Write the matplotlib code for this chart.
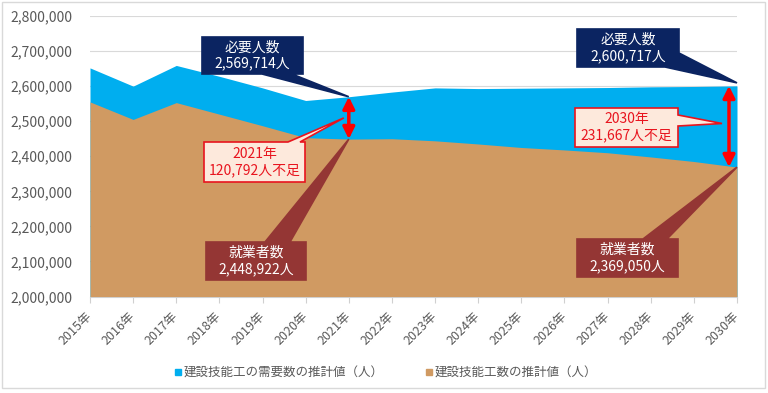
import matplotlib
matplotlib.use("Agg")
import matplotlib.pyplot as plt
from matplotlib.patches import Polygon, Rectangle
from matplotlib.lines import Line2D
from matplotlib.transforms import ScaledTranslation
from matplotlib.ticker import FuncFormatter

plt.rcParams['font.family'] = ['Noto Sans CJK JP', 'DejaVu Sans']

# data
years = list(range(2015, 2031))
demand = [2652000, 2600000, 2659000, 2628000, 2595000, 2559000, 2569714, 2583000,
          2595000, 2593000, 2594000, 2595000, 2596000, 2598000, 2599000, 2600717]
workers = [2555000, 2505000, 2553000, 2520000, 2487000, 2453000, 2448922, 2450000,
           2444000, 2435000, 2425000, 2418000, 2410000, 2398000, 2385000, 2369050]
year_labels = [f"{y}年" for y in years]
legend_labels = ["建設技能工の需要数の推計値（人）", "建設技能工数の推計値（人）"]

BLUE = "#00AEEF"
BROWN = "#D09A62"
NAVY = "#0B2461"
DARKRED = "#943634"
RED = "#E8141E"
PINK = "#FDE9DC"
GREY = "#595959"

W, H = 768, 393
fig = plt.figure(figsize=(W / 100, H / 100), dpi=100)
ax = fig.add_axes([90 / W, 1 - 296.5 / H, (737 - 90) / W, (296.5 - 16) / H])

ax.fill_between(years, 2000000, demand, color=BLUE, lw=0, zorder=2)
ax.fill_between(years, 2000000, workers, color=BROWN, lw=0, zorder=3)

ax.set_xlim(2015, 2030)
ax.set_ylim(2000000, 2800000)
ax.set_yticks(range(2000000, 2800001, 100000))
ax.yaxis.set_major_formatter(FuncFormatter(lambda v, p: f"{int(v):,}"))
ax.set_xticks(years)
ax.set_xticklabels(year_labels, rotation=45, ha='right', va='center',
                   rotation_mode='anchor', fontsize=9, color=GREY)
ax.tick_params(axis='x', length=4, color="#D0D0D0", pad=9)
ax.tick_params(axis='y', length=0, labelsize=10, labelcolor=GREY, pad=13)
ax.grid(axis='y', color="#D9D9D9", lw=0.8)
ax.set_axisbelow(True)
for s in ['top', 'right', 'left']:
    ax.spines[s].set_visible(False)
ax.spines['bottom'].set_color("#D0D0D0")

# outer border
fig.add_artist(Rectangle((2 / W, 1 - 388 / H), 763 / W, 386 / H, transform=fig.transFigure,
                         fill=False, edgecolor="#D9D9D9", lw=1))


def data_px(x, y):
    dx, dy = ax.transData.transform((x, y))
    return dx, H - dy


def to_fig(pts):
    return [(px / W, 1 - py / H) for px, py in pts]


def callout(pts, box, text, face, edge, tcolor):
    fig.add_artist(Polygon(to_fig(pts), closed=True, transform=fig.transFigure,
                           facecolor=face, edgecolor=edge, lw=1.2, zorder=5))
    l, t, r, b = box
    fig.text((l + r) / 2 / W, 1 - (t + b) / 2 / H, text, ha='center', va='center',
             color=tcolor, fontsize=10, linespacing=1.2, zorder=6)


# required people callouts
i21 = years.index(2021)
i30 = years.index(2030)
tip = data_px(years[i21], demand[i21])
l, t, r, b = 202, 37, 303, 74
callout([(l, t), (r, t), (r, b), (292, b), tip, (262, b), (l, b)], (l, t, r, b),
        f"必要人数\n{demand[i21]:,}人", NAVY, NAVY, "white")

tip = data_px(years[i30], demand[i30])
l, t, r, b = 577, 29, 679, 67
callout([(l, t), (r, t), (r, 53), (tip[0], tip[1] - 3), (665, b), (l, b)], (l, t, r, b),
        f"必要人数\n{demand[i30]:,}人", NAVY, NAVY, "white")

# workers callouts
tip = data_px(years[i21], workers[i21])
l, t, r, b = 206, 242, 306, 280
callout([(l, t), (265, t), tip, (290, t), (r, t), (r, b), (l, b)], (l, t, r, b),
        f"就業者数\n{workers[i21]:,}人", DARKRED, DARKRED, "white")

tip = data_px(years[i30], workers[i30])
l, t, r, b = 577, 239, 678, 277
callout([(l, t), (643, t), tip, (667, t), (r, t), (r, b), (l, b)], (l, t, r, b),
        f"就業者数\n{workers[i30]:,}人", DARKRED, DARKRED, "white")

# shortage arrows
off21 = ScaledTranslation(0, 0, fig.dpi_scale_trans)
off30 = ScaledTranslation(-8 / 100, 0, fig.dpi_scale_trans)
for i, off in [(i21, off21), (i30, off30)]:
    tr = ax.transData + off
    ax.annotate("", xy=(years[i], workers[i]), xytext=(years[i], demand[i]),
                xycoords=tr, textcoords=tr, zorder=7, annotation_clip=False,
                arrowprops=dict(arrowstyle='<|-|>,head_length=0.7,head_width=0.35',
                                color="#FF0000", lw=2.5, shrinkA=0, shrinkB=0))

# shortage callouts
x21, y21 = data_px(years[i21], (demand[i21] + workers[i21]) / 2)
l, t, r, b = 204, 142, 305, 182
callout([(l, t), (288, t), (x21 - 5, y21), (300, t), (r, t), (r, b), (l, b)], (l, t, r, b),
        f"2021年\n{demand[i21] - workers[i21]:,}人不足", PINK, RED, RED)

x30, y30 = data_px(years[i30], (demand[i30] + workers[i30]) / 2)
l, t, r, b = 575, 108, 678, 147
callout([(l, t), (r, t), (r, 115), (x30 - 15, y30 - 3), (r, 126), (r, b), (l, b)], (l, t, r, b),
        f"2030年\n{demand[i30] - workers[i30]:,}人不足", PINK, RED, RED)

# legend
handles = [Line2D([], [], marker='s', ls='', color=BLUE, markersize=5),
           Line2D([], [], marker='s', ls='', color=BROWN, markersize=5)]
fig.legend(handles, legend_labels, loc='center', bbox_to_anchor=(385 / W, 1 - 373 / H),
           ncol=2, frameon=False, fontsize=9, labelcolor=GREY, handletextpad=0.1,
           columnspacing=3.2, handlelength=0.8)

fig.savefig("out.png", dpi=100)
